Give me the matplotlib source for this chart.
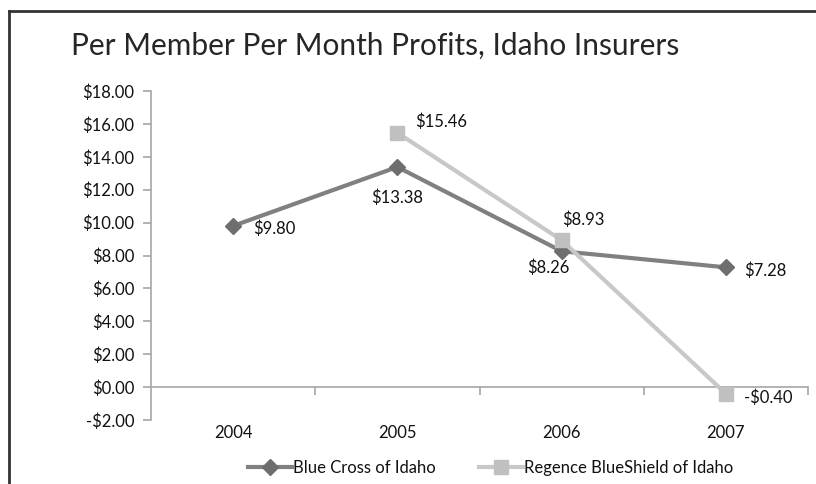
import matplotlib
matplotlib.use("Agg")
import matplotlib.pyplot as plt
from matplotlib.ticker import FuncFormatter, FixedLocator
from matplotlib.lines import Line2D
import numpy as np

# ---- data ----
years = ["2004", "2005", "2006", "2007"]
blue_cross = [9.80, 13.38, 8.26, 7.28]
regence = [np.nan, 15.46, 8.93, -0.40]
series_names = ["Blue Cross of Idaho", "Regence BlueShield of Idaho"]
title = "Per Member Per Month Profits, Idaho Insurers"
y_ticks = [-2, 0, 2, 4, 6, 8, 10, 12, 14, 16, 18]

# label offsets (pixels) and alignment for data labels
bc_offsets = [(20, -3, 'left'), (0, -31, 'center'), (-13, -17, 'center'), (18, -3, 'left')]
rb_offsets = [None, (18, 11, 'left'), (22, 20, 'center'), (18, -4, 'left')]

W, H = 816, 484
fig = plt.figure(figsize=(W / 100, H / 100), dpi=100)
fig.patch.set_facecolor('white')

tick_font = 'Lato'
fs = 12
txt_color = '#111111'
axis_color = '#a6a6a6'

ax = fig.add_axes([151 / W, 1 - 420 / H, (808 - 151) / W, (420 - 91) / H])
x = np.arange(len(years))

ax.plot(x, blue_cross, color='#808080', lw=3.0, marker='D', markersize=8,
        markerfacecolor='#6e6e6e', markeredgecolor='#6e6e6e', zorder=3, label=series_names[0],
        solid_capstyle='butt')
ax.plot(x, regence, color='#c8c8c8', lw=3.0, marker='s', markersize=9.5,
        markerfacecolor='#c0c0c0', markeredgecolor='#c0c0c0', zorder=4, label=series_names[1],
        solid_capstyle='butt')

ax.set_xlim(-0.5, len(years) - 0.5)
ax.set_ylim(min(y_ticks), max(y_ticks))

for s in ['top', 'right']:
    ax.spines[s].set_visible(False)
ax.spines['left'].set_color(axis_color)
ax.spines['bottom'].set_color(axis_color)
ax.spines['left'].set_linewidth(1.2)
ax.spines['bottom'].set_linewidth(1.2)
ax.spines['bottom'].set_position(('data', 0))

def money(v, pos=None):
    return "-${:.2f}".format(-v) if v < 0 else "${:.2f}".format(v)

ax.yaxis.set_major_locator(FixedLocator(y_ticks))
ax.yaxis.set_major_formatter(FuncFormatter(money))
ax.tick_params(axis='y', direction='out', length=6, width=1.2, color=axis_color,
               labelsize=fs, labelcolor=txt_color, pad=6)

ax.set_xticks(x)
ax.set_xticklabels(years)
ax.set_xticks(np.arange(len(years)) + 0.5, minor=True)
ax.tick_params(axis='x', which='major', length=0, pad=27, labelsize=fs, labelcolor=txt_color)
ax.tick_params(axis='x', which='minor', direction='out', length=6, width=1.2, color=axis_color)

for lab in ax.get_xticklabels() + ax.get_yticklabels():
    lab.set_fontfamily(tick_font)

px = 0.72
for xi, v, off in zip(x, blue_cross, bc_offsets):
    dx, dy, ha = off
    ax.annotate(money(v), (xi, v), xytext=(dx * px, dy * px), textcoords='offset points',
                ha=ha, va='center', fontsize=fs, family=tick_font, color=txt_color, zorder=5)
for xi, v, off in zip(x, regence, rb_offsets):
    if off is None or np.isnan(v):
        continue
    dx, dy, ha = off
    ax.annotate(money(v), (xi, v), xytext=(dx * px, dy * px), textcoords='offset points',
                ha=ha, va='center', fontsize=fs, family=tick_font, color=txt_color, zorder=5)

# legend
handles = [
    Line2D([], [], color='#808080', lw=3.0, marker='D', markersize=8,
           markerfacecolor='#6e6e6e', markeredgecolor='#6e6e6e'),
    Line2D([], [], color='#c8c8c8', lw=3.0, marker='s', markersize=9.5,
           markerfacecolor='#c0c0c0', markeredgecolor='#c0c0c0'),
]
leg = fig.legend(handles, series_names, loc='center', bbox_to_anchor=(491 / W, 1 - 468 / H),
                 ncol=2, frameon=False, handlelength=2.6, handletextpad=0.1, columnspacing=2.6,
                 prop={'family': tick_font, 'size': fs})
for t in leg.get_texts():
    t.set_color(txt_color)

# title
fig.text(71 / W, 1 - 55 / H, title, ha='left', va='baseline', fontsize=21.5,
         family='Lato', fontweight='normal', color='#262626')

# border (top and left)
fig.add_artist(Line2D([9 / W, 1.0], [1 - 11 / H, 1 - 11 / H], color='#333333', lw=2.0,
                      transform=fig.transFigure))
fig.add_artist(Line2D([9 / W, 9 / W], [0.0, 1 - 11 / H], color='#333333', lw=2.0,
                      transform=fig.transFigure))

fig.savefig('out.png', dpi=100)
